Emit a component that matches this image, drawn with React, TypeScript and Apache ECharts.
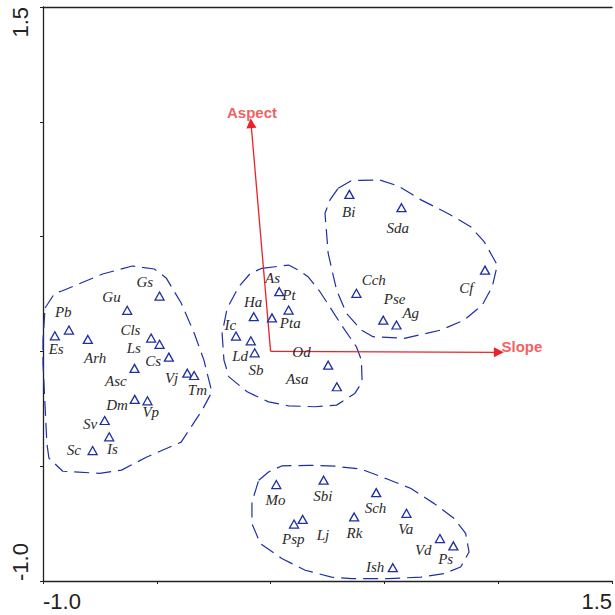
import React, { useEffect, useRef } from "react";
import * as echarts from "echarts";

// ---- Data (ordination scores) ----
const speciesNames = [
  "Es", "Pb", "Arh", "Gu", "Gs", "Cls", "Ls", "Cs", "Asc", "Vj", "Tm", "Dm", "Vp", "Sv", "Is", "Sc",
  "As", "Pt", "Ha", "Pta", "Ic", "Ld", "Sb", "Od", "Asa",
  "Bi", "Sda", "Cch", "Pse", "Ag", "Cf",
  "Mo", "Sbi", "Sch", "Psp", "Lj", "Rk", "Va", "Vd", "Ps", "Ish",
];
const speciesX = [
  -0.948, -0.886, -0.803, -0.630, -0.488, -0.525, -0.488, -0.447, -0.598, -0.366, -0.336, -0.597, -0.541, -0.729, -0.709, -0.782,
  0.038, 0.079, -0.074, 0.006, -0.152, -0.087, -0.070, 0.253, 0.291,
  0.346, 0.575, 0.377, 0.495, 0.553, 0.942,
  0.025, 0.233, 0.464, 0.103, 0.141, 0.367, 0.597, 0.744, 0.803, 0.537,
];
const speciesY = [
  0.068, 0.093, 0.052, 0.179, 0.241, 0.058, 0.031, -0.025, -0.074, -0.095, -0.105, -0.209, -0.215, -0.301, -0.372, -0.432,
  0.260, 0.180, 0.151, 0.146, 0.067, 0.046, -0.006, -0.060, -0.154,
  0.684, 0.626, 0.253, 0.136, 0.115, 0.354,
  -0.580, -0.561, -0.615, -0.752, -0.732, -0.721, -0.705, -0.815, -0.847, -0.942,
];

// environmental vectors
const vectorNames = ["Slope", "Aspect"];
const vectorX = [1.003, -0.086];
const vectorY = [-0.004, 0.994];

// group envelopes (dashed outlines)
const hull1 = [
  [-0.991, 0.189], [-0.948, 0.254], [-0.917, 0.263], [-0.738, 0.337], [-0.607, 0.372], [-0.511, 0.359],
  [-0.459, 0.320], [-0.393, 0.211], [-0.336, 0.080], [-0.293, -0.038], [-0.258, -0.177], [-0.301, -0.256],
  [-0.393, -0.395], [-0.546, -0.461], [-0.655, -0.517], [-0.751, -0.531], [-0.913, -0.522], [-0.974, -0.465],
  [-0.983, -0.400], [-1.0, -0.051], [-1.0, 0.049], [-0.991, 0.189],
];
const hull2 = [
  [-0.038, 0.362], [0.079, 0.376], [0.122, 0.354], [0.166, 0.324], [0.217, 0.260], [0.311, 0.115],
  [0.377, 0.020], [0.399, -0.038], [0.402, -0.133], [0.370, -0.183], [0.290, -0.234], [0.195, -0.241],
  [0.079, -0.237], [-0.009, -0.220], [-0.103, -0.176], [-0.183, -0.111], [-0.205, -0.038], [-0.213, 0.078],
  [-0.191, 0.187], [-0.140, 0.282], [-0.089, 0.340], [-0.038, 0.362],
];
const hull3 = [
  [0.297, 0.711], [0.355, 0.744], [0.479, 0.747], [0.559, 0.721], [0.661, 0.660], [0.777, 0.602],
  [0.879, 0.543], [0.938, 0.478], [0.996, 0.376], [0.974, 0.282], [0.930, 0.202], [0.850, 0.136],
  [0.748, 0.093], [0.588, 0.057], [0.450, 0.064], [0.399, 0.093], [0.333, 0.166], [0.290, 0.267],
  [0.253, 0.427], [0.239, 0.602], [0.261, 0.660], [0.297, 0.711],
];
const hull4 = [
  [-0.052, -0.561], [-0.009, -0.525], [0.049, -0.499], [0.166, -0.496], [0.283, -0.500], [0.399, -0.513],
  [0.515, -0.557], [0.617, -0.597], [0.719, -0.663], [0.807, -0.728], [0.857, -0.793], [0.872, -0.874],
  [0.835, -0.939], [0.763, -0.968], [0.661, -0.983], [0.515, -0.990], [0.355, -0.990], [0.268, -0.983],
  [0.152, -0.953], [0.049, -0.902], [-0.045, -0.837], [-0.082, -0.750], [-0.082, -0.656], [-0.052, -0.561],
];
const hulls = [hull1, hull2, hull3, hull4];

// axis
const axisMin = -1.0;
const axisMax = 1.5;
const axisStep = 0.5;
const xTickLabels: Record<string, string> = { "-1": "-1.0", "1.5": "1.5" };
const yTickLabels: Record<string, string> = { "-1": "-1.0", "1.5": "1.5" };

// label placement (pixel offsets of label centre from each triangle centre)
const labelOffsets: number[][] = [
  [2, 14], [-5, -17], [8, 19], [-15, -13], [-14, -13], [-20, -7], [-25, 4], [-15, 4], [-18, 13], [-15, 5], [4, 15],
  [-17, 6], [4, 12], [-14, 4], [4, 13], [-18, 0],
  [-6, -13], [1, -14], [0, -14], [19, 6], [-5, -10], [-10, 16], [2, 18], [-26, -13], [-39, -7],
  [0, 18], [-3, 21], [18, -13], [12, -21], [15, -11], [-18, 18],
  [0, 16], [0, 16], [0, 16], [0, 16], [21, 16], [1, 17], [0, 16], [-16, 12], [-7, 14], [-17, 0],
];
const vectorLabelOffsets: number[][] = [[23, -6], [1, -11]];

const BLUE = "#1f2fa3";
const RED = "#e8242a";
const TRI_W = 9;
const TRI_H = 8;

export default function App() {
  const ref = useRef<HTMLDivElement>(null);
  useEffect(() => {
    document.body.style.margin = "0";
    const chart = echarts.init(ref.current!, null, { renderer: "svg" });
    const tickFmt = (map: Record<string, string>) => (v: number) => {
      const k = String(Math.round(v * 10) / 10);
      return map[k] ?? "";
    };
    const option: any = {
      animation: false,
      backgroundColor: "#ffffff",
      grid: { left: 43, right: 0, top: 7, bottom: 34 },
      xAxis: [
        {
          type: "value",
          min: axisMin,
          max: axisMax,
          interval: axisStep,
          splitLine: { show: false },
          axisLine: { show: true, onZero: false, lineStyle: { color: "#222", width: 1.3 } },
          axisTick: { show: true, length: 3, lineStyle: { color: "#222" } },
          axisLabel: {
            formatter: tickFmt(xTickLabels),
            showMinLabel: true,
            showMaxLabel: true,
            alignMinLabel: "left",
            alignMaxLabel: "right",
            fontFamily: "Liberation Sans, Arial, sans-serif",
            fontSize: 22,
            color: "#222",
            margin: 9,
          },
        },
        {
          type: "value",
          position: "top",
          min: axisMin,
          max: axisMax,
          interval: axisStep,
          splitLine: { show: false },
          axisLine: { show: true, onZero: false, lineStyle: { color: "#222", width: 1.3 } },
          axisTick: { show: false },
          axisLabel: { show: false },
        },
      ],
      yAxis: {
        type: "value",
        min: axisMin,
        max: axisMax,
        interval: axisStep,
        splitLine: { show: false },
        axisLine: { show: true, onZero: false, lineStyle: { color: "#222", width: 1.3 } },
        axisTick: { show: true, length: 3, lineStyle: { color: "#222" } },
        axisLabel: {
          formatter: tickFmt(yTickLabels),
          rotate: 90,
          showMinLabel: true,
          showMaxLabel: true,
          alignMinLabel: "left",
          alignMaxLabel: "right",
          verticalAlign: "bottom",
          fontFamily: "Liberation Sans, Arial, sans-serif",
          fontSize: 22,
          color: "#222",
          margin: 12,
        },
      },
      series: [
        ...hulls.map((h) => ({
          type: "line",
          data: h,
          symbol: "none",
          silent: true,
          smooth: false,
          lineStyle: { color: BLUE, width: 1.2, type: [15, 7] },
          z: 1,
        })),
        {
          type: "lines",
          coordinateSystem: "cartesian2d",
          symbol: ["none", "triangle"],
          symbolSize: 10,
          lineStyle: { color: RED, width: 1.3, opacity: 1 },
          data: vectorNames.map((n, i) => ({
            name: n,
            coords: [[0, 0], [vectorX[i], vectorY[i]]],
          })),
          z: 3,
        },
        {
          type: "scatter",
          symbol: "circle",
          symbolSize: 2,
          itemStyle: { color: "rgba(0,0,0,0)" },
          silent: true,
          data: vectorNames.map((n, i) => ({
            name: n,
            value: [vectorX[i], vectorY[i]],
            label: {
              position: [1 + vectorLabelOffsets[i][0], 1 + vectorLabelOffsets[i][1]],
            },
          })),
          label: {
            show: true,
            formatter: "{b}",
            align: "center",
            verticalAlign: "middle",
            color: "#ee3535",
            fontWeight: "bold",
            fontSize: 15,
            fontFamily: "Liberation Sans, Arial, sans-serif",
          },
          z: 4,
        },
        {
          type: "scatter",
          symbol: "triangle",
          symbolSize: [TRI_W, TRI_H],
          itemStyle: { color: "#ffffff", borderColor: BLUE, borderWidth: 1.3, opacity: 1 },
          data: speciesNames.map((n, i) => ({
            name: n,
            value: [speciesX[i], speciesY[i]],
            label: {
              position: [TRI_W / 2 + labelOffsets[i][0], TRI_H / 2 + labelOffsets[i][1]],
            },
          })),
          label: {
            show: true,
            formatter: "{b}",
            align: "center",
            verticalAlign: "middle",
            color: "#2a2a2a",
            fontStyle: "italic",
            fontSize: 15,
            fontFamily: "Liberation Serif, Times New Roman, serif",
          },
          labelLayout: { hideOverlap: false },
          z: 5,
        },
      ],
    };
    chart.setOption(option);
    return () => chart.dispose();
  }, []);
  return <div ref={ref} style={{ width: 615, height: 615 }} />;
}
